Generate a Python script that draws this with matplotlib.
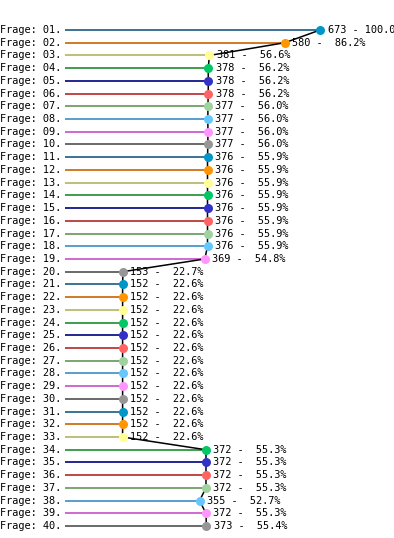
import matplotlib
matplotlib.use("Agg")
import matplotlib.pyplot as plt
from matplotlib import transforms

labels = ["Frage: %02d." % i for i in range(1, 41)]
counts = [673, 580, 381, 378, 378, 378, 377, 377, 377, 377,
          376, 376, 376, 376, 376, 376, 376, 376, 369, 153,
          152, 152, 152, 152, 152, 152, 152, 152, 152, 152,
          152, 152, 152, 372, 372, 372, 372, 355, 372, 373]
percents = [100.0, 86.2, 56.6, 56.2, 56.2, 56.2, 56.0, 56.0, 56.0, 56.0,
            55.9, 55.9, 55.9, 55.9, 55.9, 55.9, 55.9, 55.9, 54.8, 22.7,
            22.6, 22.6, 22.6, 22.6, 22.6, 22.6, 22.6, 22.6, 22.6, 22.6,
            22.6, 22.6, 22.6, 55.3, 55.3, 55.3, 55.3, 52.7, 55.3, 55.4]

line_colors = ['#1a5a80', '#c86400', '#b4b464', '#1e8c32', '#000080',
               '#b42828', '#64965a', '#3c8cc8', '#c850c8', '#505050']
dot_colors = ['#0096c8', '#ff9600', '#ffff96', '#00c864', '#3232c8',
              '#ff6464', '#a0d2a0', '#64c8ff', '#ff96ff', '#969696']

W, H = 394, 538
fig = plt.figure(figsize=(W / 100, H / 100), dpi=100)
x0 = 65
ax = fig.add_axes([x0 / W, 0, 1 - x0 / W, 1])
ax.set_axis_off()

scale = 0.379  # px per unit
ax.set_xlim(0, (W - x0) / scale)
y_first, step = 30, 12.72
ax.set_ylim(1 + (H - y_first) / step, 1 - y_first / step)

rows = list(range(1, 41))
for i, (r, c) in enumerate(zip(rows, counts)):
    ax.plot([0, c], [r, r], color=line_colors[i % 10], lw=1.2, zorder=1,
            solid_capstyle='butt')

ax.plot(counts, rows, color='black', lw=1.1, zorder=3)

for i, (r, c) in enumerate(zip(rows, counts)):
    ax.plot(c, r, 'o', ms=6.5, color=dot_colors[i % 10], mec='none', zorder=4)
    ax.text(c + 7.5 / scale, r, "%d - %5.1f%%" % (c, percents[i]),
            va='center', ha='left', fontsize=7.4, family='DejaVu Sans Mono',
            zorder=2)

trans = transforms.blended_transform_factory(fig.transFigure, ax.transData)
for r, lab in zip(rows, labels):
    ax.text(0, r, lab, transform=trans, va='center', ha='left',
            fontsize=7.4, family='DejaVu Sans Mono')

fig.savefig("out.png", dpi=100)
